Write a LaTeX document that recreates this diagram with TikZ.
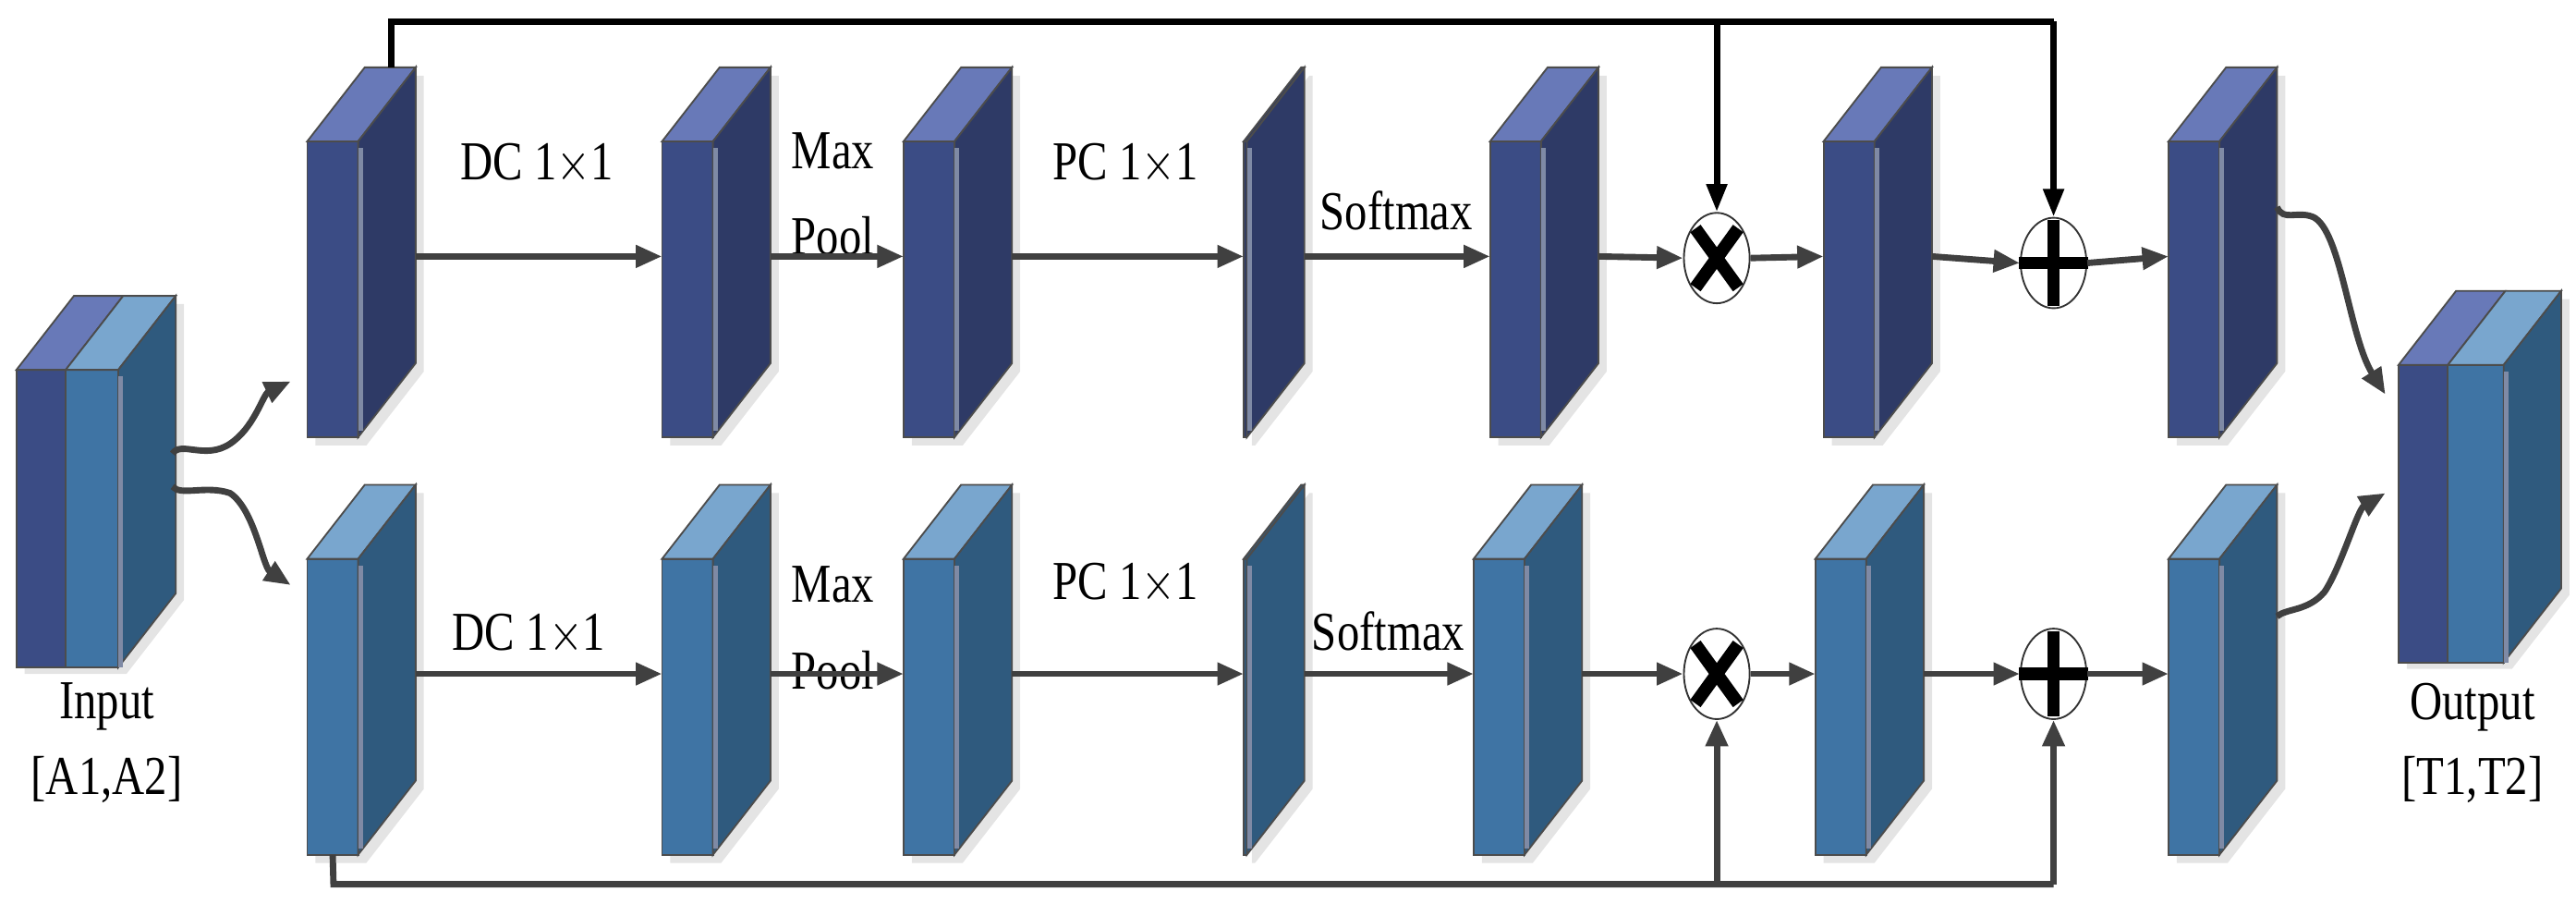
\documentclass[tikz,border=0pt]{standalone}
\usepackage{fontspec}
\setmainfont{Liberation Serif}
\usetikzlibrary{arrows.meta,shapes.geometric,calc}
\definecolor{nf}{HTML}{3B4C85}\definecolor{ns}{HTML}{2E3A66}\definecolor{nt}{HTML}{6879B8}
\definecolor{bf}{HTML}{3F74A4}\definecolor{bs}{HTML}{2F5A7E}\definecolor{bt}{HTML}{79A6CE}
\definecolor{strip}{HTML}{7F8AA5}\definecolor{shad}{HTML}{E4E4E4}\definecolor{arr}{HTML}{404040}
\newcommand\sq[1]{\scalebox{0.82}[1]{#1}}
% name, x, T, w, front, side, top
\newcommand\blk[7]{%
  \fill[shad] (#2+5,#3+5) -- ++(35,-45) -- ++(#4,0) -- ++(0,180) -- ++(-35,45) -- ++(-#4,0) -- cycle;
  \filldraw[draw=black!70,line width=0.3pt,fill=#5] (#2,#3) rectangle ++(#4,180);
  \filldraw[draw=black!70,line width=0.3pt,fill=#7] (#2,#3) -- ++(35,-45) -- ++(#4,0) -- ++(-35,45) -- cycle;
  \filldraw[draw=black!70,line width=0.3pt,fill=#6] (#2+#4,#3) -- ++(35,-45) -- ++(0,180) -- ++(-35,45) -- cycle;
  \fill[strip] (#2+#4,#3+4) rectangle ++(3,172);
  \coordinate (#1-l) at (#2,#3+70);
  \coordinate (#1-r) at (#2+#4+35,#3+70);
  \coordinate (#1-b) at (#2+#4/2,#3+180);
  \coordinate (#1-t) at (#2+#4/2+35,#3-45);
}
\tikzset{
  ar/.style={draw=arr,line width=1.1pt,-{Triangle[length=0.16cm,width=0.13cm]}},
  sk/.style={draw=black,line width=1.1pt,-{Triangle[length=0.17cm,width=0.12cm]}},
  lab/.style={font=\fontsize{9.5}{11}\selectfont,align=center,inner sep=0pt},
  op/.style={ellipse,draw=black!80,line width=0.3pt,minimum width=0.4cm,minimum height=0.55cm,inner sep=0pt},
  sym/.style={line width=2.2pt,black}
}
\begin{document}
\begin{tikzpicture}[x=0.01cm,y=-0.01cm]
\useasboundingbox (0,0) rectangle (1568,550);
% input
\fill[shad] (15,230) -- ++(35,-45) -- ++(62,0) -- ++(0,180) -- ++(-35,45) -- ++(-62,0) -- cycle;
\filldraw[draw=black!70,line width=0.3pt,fill=nf] (10,225) rectangle ++(30,181);
\filldraw[draw=black!70,line width=0.3pt,fill=bf] (40,225) rectangle ++(32,181);
\filldraw[draw=black!70,line width=0.3pt,fill=nt] (10,225) -- ++(35,-45) -- ++(30,0) -- ++(-35,45) -- cycle;
\filldraw[draw=black!70,line width=0.3pt,fill=bt] (40,225) -- ++(35,-45) -- ++(32,0) -- ++(-35,45) -- cycle;
\filldraw[draw=black!70,line width=0.3pt,fill=bs] (72,225) -- ++(35,-45) -- ++(0,181) -- ++(-35,45) -- cycle;
\fill[strip] (72,229) rectangle ++(3,177);
\coordinate (in-r1) at (105,276);\coordinate (in-r2) at (105,296);
\node[lab] (inlab) at (65,452) {\sq{Input}\\[2pt]\sq{[A1,A2]}};
% output
\fill[shad] (1465,227) -- ++(35,-45) -- ++(64,0) -- ++(0,180) -- ++(-35,45) -- ++(-64,0) -- cycle;
\filldraw[draw=black!70,line width=0.3pt,fill=nf] (1460,222) rectangle ++(30,181);
\filldraw[draw=black!70,line width=0.3pt,fill=bf] (1490,222) rectangle ++(34,181);
\filldraw[draw=black!70,line width=0.3pt,fill=nt] (1460,222) -- ++(35,-45) -- ++(30,0) -- ++(-35,45) -- cycle;
\filldraw[draw=black!70,line width=0.3pt,fill=bt] (1490,222) -- ++(35,-45) -- ++(34,0) -- ++(-35,45) -- cycle;
\filldraw[draw=black!70,line width=0.3pt,fill=bs] (1524,222) -- ++(35,-45) -- ++(0,181) -- ++(-35,45) -- cycle;
\fill[strip] (1524,226) rectangle ++(3,177);
\coordinate (out-t) at (1452,240);\coordinate (out-b) at (1452,300);
\node[lab] (outlab) at (1505,452) {\sq{Output}\\[2pt]\sq{[T1,T2]}};
% top row
\blk{a1}{187}{86}{31}{nf}{ns}{nt}
\blk{a2}{403}{86}{31}{nf}{ns}{nt}
\blk{a3}{550}{86}{31}{nf}{ns}{nt}
\blk{a4}{757}{86}{2}{ns}{ns}{ns}
\blk{a5}{907}{86}{31}{nf}{ns}{nt}
\blk{a6}{1110}{86}{31}{nf}{ns}{nt}
\blk{a7}{1320}{86}{31}{nf}{ns}{nt}
% bottom row
\blk{b1}{187}{340}{31}{bf}{bs}{bt}
\blk{b2}{403}{340}{31}{bf}{bs}{bt}
\blk{b3}{550}{340}{31}{bf}{bs}{bt}
\blk{b4}{757}{340}{2}{bs}{bs}{bs}
\blk{b5}{897}{340}{31}{bf}{bs}{bt}
\blk{b6}{1105}{340}{31}{bf}{bs}{bt}
\blk{b7}{1320}{340}{31}{bf}{bs}{bt}
% operators
\node[op] (mt) at (1045,157) {};
\node[op] (pt) at (1250,160) {};
\node[op] (mb) at (1045,410) {};
\node[op] (pb) at (1250,410) {};
\foreach \n in {mt,mb}{\draw[sym] ($(\n)+(-13,-18)$) -- ($(\n)+(13,18)$) ($(\n)+(13,-18)$) -- ($(\n)+(-13,18)$);}
\foreach \n in {pt,pb}{\draw[sym] ($(\n)+(-21,0)$) -- ($(\n)+(21,0)$) ($(\n)+(0,-26)$) -- ($(\n)+(0,26)$);}
% labels
\node[lab] (l1) at (327,100) {\sq{DC 1$\times$1}};
\node[lab] (l2) at (507,118) {\sq{Max}\\[4pt]\sq{Pool}};
\node[lab] (l3) at (685,100) {\sq{PC 1$\times$1}};
\node[lab] (l4) at (850,128) {\sq{Softmax}};
\node[lab] (m1) at (322,386) {\sq{DC 1$\times$1}};
\node[lab] (m2) at (507,382) {\sq{Max}\\[4pt]\sq{Pool}};
\node[lab] (m3) at (685,355) {\sq{PC 1$\times$1}};
\node[lab] (m4) at (845,384) {\sq{Softmax}};
% arrows top
\draw[ar] (a1-r) -- (a2-l);
\draw[ar] (a2-r) -- (a3-l);
\draw[ar] (a3-r) -- (a4-l);
\draw[ar] (a4-r) -- (a5-l);
\draw[ar] (a5-r) -- (mt.west);
\draw[ar] (mt.east) -- (a6-l);
\draw[ar] (a6-r) -- (pt.west);
\draw[ar] (pt.east) -- (a7-l);
% arrows bottom
\draw[ar] (b1-r) -- (b2-l);
\draw[ar] (b2-r) -- (b3-l);
\draw[ar] (b3-r) -- (b4-l);
\draw[ar] (b4-r) -- (b5-l);
\draw[ar] (b5-r) -- (mb.west);
\draw[ar] (mb.east) -- (b6-l);
\draw[ar] (b6-r) -- (pb.west);
\draw[ar] (pb.east) -- (b7-l);
% skip connections
\coordinate (tl) at (238,13);
\draw[line width=1.1pt] (238,41) -- (tl) -- (1250,13);
\draw[sk] (1045,13) -- (mt.north);
\draw[sk] (1250,13) -- (pt.north);
\draw[draw=arr,line width=1.1pt] (b1-b) -- (203,538) -- (1250,538);
\draw[ar] (1045,538) -- (mb.south);
\draw[ar] (1250,538) -- (pb.south);
% curved
\draw[ar] (in-r1) .. controls (110,268) and (125,280) .. (140,270) .. controls (155,260) and (160,240) .. (177,232);
\draw[ar] (in-r2) .. controls (110,302) and (125,295) .. (140,300) .. controls (155,310) and (160,345) .. (177,356);
\draw[ar] (a7-r) ++(0,-30) .. controls (1390,135) and (1398,128) .. (1408,132) .. controls (1425,140) and (1430,205) .. (out-t);
\draw[ar] (b7-r) ++(0,-35) .. controls (1392,370) and (1405,372) .. (1415,360) .. controls (1425,345) and (1435,310) .. (out-b);
\end{tikzpicture}
\end{document}
